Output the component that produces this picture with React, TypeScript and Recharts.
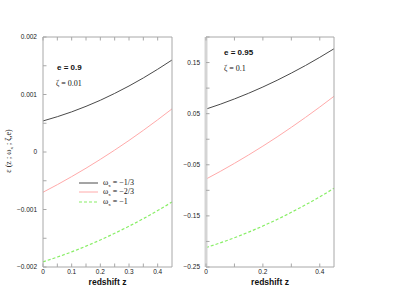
import React from 'react';
import { LineChart, Line, XAxis, YAxis } from 'recharts';

// ---- data ----
const zValues = [0, 0.05, 0.1, 0.15, 0.2, 0.25, 0.3, 0.35, 0.4, 0.45];

// panel 1: e = 0.9, zeta = 0.01
const leftW13 = [0.00054, 0.000614, 0.000698, 0.000794, 0.0009, 0.001019, 0.001148, 0.001288, 0.001439, 0.0016];
const leftW23 = [-0.0007, -0.000568, -0.000428, -0.000282, -0.000128, 0.000033, 0.000201, 0.000377, 0.00056, 0.00075];
const leftW1 = [-0.00191, -0.001827, -0.001737, -0.001637, -0.00153, -0.001414, -0.001291, -0.001159, -0.001019, -0.00087];

// panel 2: e = 0.95, zeta = 0.1
const rightW13 = [0.059, 0.0684, 0.0788, 0.09, 0.1022, 0.1153, 0.1294, 0.1443, 0.1602, 0.177];
const rightW23 = [-0.078, -0.063, -0.0472, -0.0307, -0.0135, 0.0045, 0.0233, 0.0428, 0.063, 0.084];
const rightW1 = [-0.212, -0.2028, -0.1927, -0.1817, -0.1698, -0.1569, -0.143, -0.1283, -0.1126, -0.096];

const leftXTicks = [0, 0.1, 0.2, 0.3, 0.4];
const leftXMinor = [0, 0.05, 0.1, 0.15, 0.2, 0.25, 0.3, 0.35, 0.4];
const leftYTicks = [-0.002, -0.001, 0, 0.001, 0.002];
const leftYMinor = [-0.002, -0.0015, -0.001, -0.0005, 0, 0.0005, 0.001, 0.0015, 0.002];

const rightXTicks = [0, 0.2, 0.4];
const rightXMinor = [0, 0.1, 0.2, 0.3, 0.4];
const rightYTicks = [-0.25, -0.15, -0.05, 0.05, 0.15];
const rightYMinor = [-0.25, -0.2, -0.15, -0.1, -0.05, 0, 0.05, 0.1, 0.15, 0.2];

const seriesLabels = ['= \u22121/3', '= \u22122/3', '= \u22121'];

const leftData = zValues.map((z, i) => ({ z, a: leftW13[i], b: leftW23[i], c: leftW1[i] }));
const rightData = zValues.map((z, i) => ({ z, a: rightW13[i], b: rightW23[i], c: rightW1[i] }));

const BLACK = '#4a4a4a';
const RED = '#ffaaaa';
const GREEN = '#88ee66';
const FRAME = '#a8a8a8';
const TICKLEN = 3.5;

const fmt = (v: number) => (v < 0 ? '\u2212' + String(Math.abs(v)) : String(v));
const isIn = (arr: number[], v: number) => arr.some((m) => Math.abs(m - v) < 1e-9);

const SANS = 'Liberation Sans, Arial, sans-serif';
const SERIF = 'Liberation Serif, Times New Roman, serif';

type Side = 'bottom' | 'left' | 'top' | 'right';

const makeTick = (side: Side, labels: number[], gap: number) => (props: any) => {
  const { x, y, payload } = props;
  const v = payload.value as number;
  const showLabel = isIn(labels, v);
  let line = null;
  let label = null;
  if (side === 'bottom') {
    const ay = y - gap;
    line = <line x1={x} y1={ay} x2={x} y2={ay - TICKLEN} stroke={FRAME} />;
    if (showLabel)
      label = (
        <text x={x} y={y} dy="0.71em" textAnchor="middle" fontSize={6.5} fill="#222" fontFamily={SANS}>
          {fmt(v)}
        </text>
      );
  } else if (side === 'left') {
    const ax = x + gap;
    line = <line x1={ax} y1={y} x2={ax + TICKLEN} y2={y} stroke={FRAME} />;
    if (showLabel)
      label = (
        <text x={x} y={y} dy="0.355em" textAnchor="end" fontSize={6.5} fill="#222" fontFamily={SANS}>
          {fmt(v)}
        </text>
      );
  } else if (side === 'top') {
    line = <line x1={x} y1={y} x2={x} y2={y + TICKLEN} stroke={FRAME} />;
  } else {
    line = <line x1={x} y1={y} x2={x - TICKLEN} y2={y} stroke={FRAME} />;
  }
  return (
    <g>
      {line}
      {label}
    </g>
  );
};

type PanelProps = {
  data: any[];
  xDomain: [number, number];
  yDomain: [number, number];
  xTicks: number[];
  xMinor: number[];
  yTicks: number[];
  yMinor: number[];
  marginLeft: number;
  marginRight: number;
  leftAxisStyle: { stroke: string; strokeWidth: number };
};

const Panel = ({ data, xDomain, yDomain, xTicks, xMinor, yTicks, yMinor, marginLeft, marginRight, leftAxisStyle }: PanelProps) => (
  <LineChart width={200} height={304} data={data} margin={{ top: 36, right: marginRight, bottom: 17, left: marginLeft }}>
    <XAxis
      xAxisId="b"
      dataKey="z"
      type="number"
      domain={xDomain}
      ticks={xMinor}
      orientation="bottom"
      height={20}
      tickLine={false}
      tickSize={0}
      tickMargin={2}
      axisLine={{ stroke: FRAME }}
      tick={makeTick('bottom', xTicks, 2)}
      interval={0}
      label={{
        value: 'redshift z',
        position: 'insideBottom',
        offset: 2,
        style: { fontSize: 8.5, fontWeight: 'bold', fill: '#111', fontFamily: SANS },
      }}
    />
    <XAxis
      xAxisId="t"
      dataKey="z"
      type="number"
      domain={xDomain}
      ticks={xMinor}
      orientation="top"
      height={1}
      tickLine={false}
      tickSize={0}
      tickMargin={0}
      axisLine={{ stroke: FRAME }}
      tick={makeTick('top', [], 0)}
      interval={0}
    />
    <YAxis
      yAxisId="l"
      type="number"
      domain={yDomain}
      ticks={yMinor}
      orientation="left"
      width={35}
      tickLine={false}
      tickSize={0}
      tickMargin={6}
      axisLine={leftAxisStyle}
      tick={makeTick('left', yTicks, 6)}
      interval={0}
    />
    <YAxis
      yAxisId="r"
      type="number"
      domain={yDomain}
      ticks={yMinor}
      orientation="right"
      width={1}
      tickLine={false}
      tickSize={0}
      tickMargin={0}
      axisLine={{ stroke: FRAME }}
      tick={makeTick('right', [], 0)}
      interval={0}
    />
    <Line xAxisId="b" yAxisId="l" dataKey="a" stroke={BLACK} strokeWidth={1} dot={false} type="monotone" isAnimationActive={false} />
    <Line xAxisId="b" yAxisId="l" dataKey="b" stroke={RED} strokeWidth={1} dot={false} type="monotone" isAnimationActive={false} />
    <Line xAxisId="b" yAxisId="l" dataKey="c" stroke={GREEN} strokeWidth={1.2} strokeDasharray="3 2" dot={false} type="monotone" isAnimationActive={false} />
  </LineChart>
);

const LegendBox = () => (
  <div style={{ fontFamily: SERIF, fontSize: 8, color: '#111', lineHeight: '9.6px' }}>
    {[
      { color: BLACK, dash: undefined as string | undefined, w: 1 },
      { color: RED, dash: undefined as string | undefined, w: 1 },
      { color: GREEN, dash: '3 2', w: 1.2 },
    ].map((s, i) => (
      <div key={i} style={{ display: 'flex', alignItems: 'center', height: 9.6 }}>
        <svg width={19} height={4} style={{ marginRight: 5 }}>
          <line x1={0} y1={2} x2={19} y2={2} stroke={s.color} strokeWidth={s.w} strokeDasharray={s.dash} />
        </svg>
        <span style={{ whiteSpace: 'nowrap' }}>
          ω<sub style={{ fontSize: 5, verticalAlign: 'baseline', position: 'relative', top: 2 }}>x</sub> {seriesLabels[i]}
        </span>
      </div>
    ))}
  </div>
);

const annoBold = { position: 'absolute' as const, fontFamily: SANS, fontWeight: 'bold' as const, fontSize: 8, color: '#111', whiteSpace: 'nowrap' as const };
const annoSerif = { position: 'absolute' as const, fontFamily: SERIF, fontSize: 8, color: '#111', whiteSpace: 'nowrap' as const };

export default function App() {
  return (
    <div style={{ position: 'absolute', left: 0, top: 0, width: 393, height: 304, background: '#fff', overflow: 'hidden' }}>
      <div style={{ position: 'absolute', left: 0, top: 0 }}>
        <Panel
          data={leftData}
          xDomain={[0, 0.45]}
          yDomain={[-0.002, 0.002]}
          xTicks={leftXTicks}
          xMinor={leftXMinor}
          yTicks={leftYTicks}
          yMinor={leftYMinor}
          marginLeft={8}
          marginRight={27}
          leftAxisStyle={{ stroke: FRAME, strokeWidth: 1 }}
        />
      </div>
      <div style={{ position: 'absolute', left: 160, top: 0 }}>
        <Panel
          data={rightData}
          xDomain={[0, 0.45]}
          yDomain={[-0.25, 0.2]}
          xTicks={rightXTicks}
          xMinor={rightXMinor}
          yTicks={rightYTicks}
          yMinor={rightYMinor}
          marginLeft={11}
          marginRight={25}
          leftAxisStyle={{ stroke: '#d4d4d4', strokeWidth: 3 }}
        />
      </div>
      <div style={{ position: 'absolute', left: 79, top: 178 }}>
        <LegendBox />
      </div>
      <div style={{ ...annoBold, left: 57, top: 63 }}>e = 0.9</div>
      <div style={{ ...annoSerif, left: 56, top: 79 }}>ζ = 0.01</div>
      <div style={{ ...annoBold, left: 224, top: 48 }}>e = 0.95</div>
      <div style={{ ...annoSerif, left: 224, top: 64 }}>ζ = 0.1</div>
      <div
        style={{
          ...annoSerif,
          left: 8,
          top: 151,
          transform: 'translate(-50%, -50%) rotate(-90deg)',
        }}
      >
        ε (z ; ω<sub style={{ fontSize: 5, verticalAlign: 'baseline', position: 'relative', top: 2 }}>x</sub> ; ζ,e)
      </div>
    </div>
  );
}
